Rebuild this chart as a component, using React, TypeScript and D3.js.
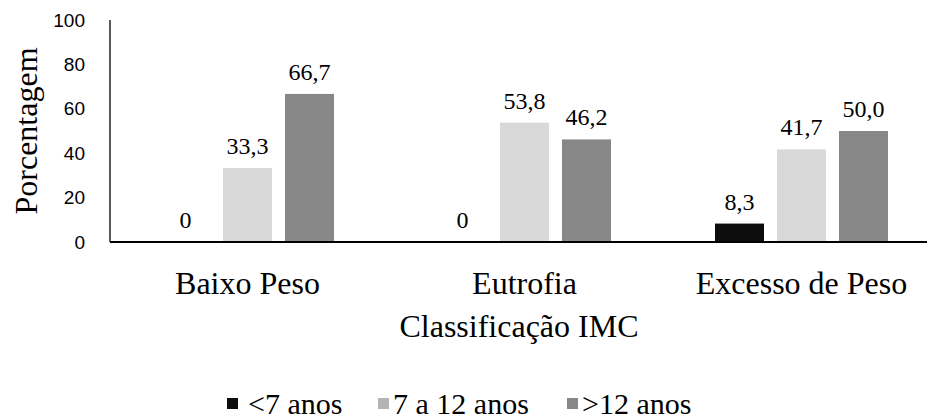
import React from "react";
import * as d3 from "d3";

const categories = ["Baixo Peso", "Eutrofia", "Excesso de Peso"];
const seriesNames = ["<7 anos", "7 a 12 anos", ">12 anos"];
const under7 = [0, 0, 8.3];
const from7to12 = [33.3, 53.8, 41.7];
const over12 = [66.7, 46.2, 50.0];
const yTicks = [0, 20, 40, 60, 80, 100];

const barColors = ["#0d0d0d", "#d9d9d9", "#878787"];
const legendColors = ["#0d0d0d", "#b4b4b4", "#878787"];

const W = 928;
const H = 419;

const fmt = (v: number) => (v === 0 ? "0" : v.toFixed(1).replace(".", ","));

export default function App() {
  const values = [under7, from7to12, over12];
  const y = d3.scaleLinear().domain([0, 100]).range([242, 20]);
  const x0 = d3.scaleBand<string>().domain(categories).range([109, 940]).padding(0);
  const groupWidth = 173;
  const x1 = d3
    .scaleBand<string>()
    .domain(seriesNames)
    .range([0, groupWidth])
    .paddingInner(13 / 62)
    .paddingOuter(0);

  const serif = "'Times New Roman', 'Liberation Serif', serif";
  const sans = "'Liberation Sans', Arial, sans-serif";

  const legendItems = [
    { x: 227, textX: 248 },
    { x: 378, textX: 393 },
    { x: 567, textX: 582 },
  ];

  return (
    <div style={{ position: "absolute", left: 0, top: 0 }}>
      <svg width={W} height={H} style={{ display: "block", background: "#fff" }}>
        {/* value axis tick labels */}
        {yTicks.map((t) => (
          <text
            key={t}
            x={85}
            y={y(t)}
            textAnchor="end"
            dominantBaseline="central"
            fontFamily={sans}
            fontSize={19}
            fill="#000"
          >
            {t}
          </text>
        ))}

        {/* bars */}
        {categories.map((c, ci) => {
          const gx = (x0(c) ?? 0) + x0.bandwidth() / 2 - groupWidth / 2;
          return (
            <g key={c}>
              {seriesNames.map((s, si) => {
                const v = values[si][ci];
                const bx = gx + (x1(s) ?? 0);
                const bw = x1.bandwidth();
                return (
                  <g key={s}>
                    {v > 0 && (
                      <rect x={bx} y={y(v)} width={bw} height={y(0) - y(v)} fill={barColors[si]} />
                    )}
                    <text
                      x={bx + bw / 2}
                      y={y(v) - 22}
                      textAnchor="middle"
                      dominantBaseline="central"
                      fontFamily={serif}
                      fontSize={24}
                      fill="#000"
                    >
                      {fmt(v)}
                    </text>
                  </g>
                );
              })}
              <text
                x={(x0(c) ?? 0) + x0.bandwidth() / 2}
                y={283}
                textAnchor="middle"
                dominantBaseline="central"
                fontFamily={serif}
                fontSize={32}
                fill="#000"
              >
                {c}
              </text>
            </g>
          );
        })}

        {/* axes */}
        <line x1={110} x2={110} y1={20} y2={242} stroke="#000" strokeWidth={1.3} />
        <line x1={110} x2={927} y1={242} y2={242} stroke="#000" strokeWidth={1.8} />

        {/* axis titles */}
        <text
          x={519}
          y={326}
          textAnchor="middle"
          dominantBaseline="central"
          fontFamily={serif}
          fontSize={32}
          fill="#000"
        >
          Classificação IMC
        </text>
        <text
          transform={`translate(26,131) rotate(-90)`}
          textAnchor="middle"
          dominantBaseline="central"
          fontFamily={serif}
          fontSize={32}
          fill="#000"
        >
          Porcentagem
        </text>

        {/* legend */}
        {seriesNames.map((s, i) => (
          <g key={s}>
            <rect x={legendItems[i].x} y={398} width={11} height={11} fill={legendColors[i]} />
            <text
              x={legendItems[i].textX}
              y={403}
              dominantBaseline="central"
              fontFamily={serif}
              fontSize={30}
              fill="#000"
            >
              {s}
            </text>
          </g>
        ))}
      </svg>
    </div>
  );
}
